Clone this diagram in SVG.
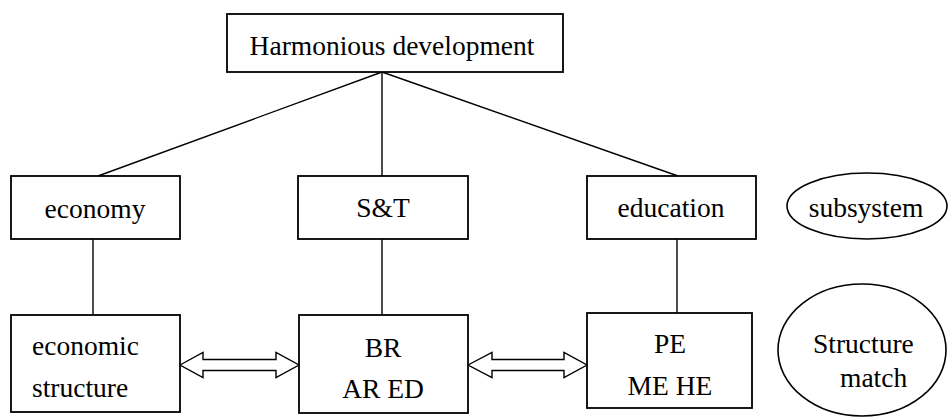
<svg xmlns="http://www.w3.org/2000/svg" width="952" height="418" viewBox="0 0 952 418" font-family="'Liberation Serif', 'Times New Roman', Tinos, 'DejaVu Serif', serif">
<style>
.box{fill:#fff;stroke:#000;stroke-width:1.8}
.ell{fill:#fff;stroke:#000;stroke-width:1.6}
.ln{fill:none;stroke:#000;stroke-width:1.4}
.arr{fill:#fff;stroke:#000;stroke-width:1.4;stroke-linejoin:miter}
text{font-family:'Liberation Serif','Times New Roman',Tinos,'DejaVu Serif',serif;font-size:27.5px;fill:#000}
.c{text-anchor:middle}
</style>
<rect width="952" height="418" fill="#fff"/>
<g id="connectors">
<line class="ln" x1="382" y1="72" x2="98" y2="176"/>
<line class="ln" x1="382" y1="72" x2="382" y2="176"/>
<line class="ln" x1="382" y1="72" x2="678" y2="176"/>
<line class="ln" x1="93" y1="239" x2="93" y2="315"/>
<line class="ln" x1="382" y1="239" x2="382" y2="315"/>
<line class="ln" x1="677" y1="239" x2="677" y2="313"/>
<path class="arr" d="M180,365 L203,352.5 L203,359.5 L276,359.5 L276,352.5 L299,365 L276,377.5 L276,370.5 L203,370.5 L203,377.5 Z"/>
<path class="arr" d="M468,365 L492,352.5 L492,359.5 L564,359.5 L564,352.5 L587,365 L564,377.5 L564,370.5 L492,370.5 L492,377.5 Z"/>
</g>
<g id="harmonious">
<rect class="box" x="227" y="14" width="336" height="58"/>
<text class="c" x="392" y="55">Harmonious development</text>
</g>
<g id="economy">
<rect class="box" x="11" y="176" width="169" height="63"/>
<text class="c" x="95" y="218">economy</text>
</g>
<g id="st">
<rect class="box" x="298" y="176" width="170" height="63"/>
<text class="c" x="383" y="217">S&amp;T</text>
</g>
<g id="education">
<rect class="box" x="587" y="176" width="169" height="63"/>
<text class="c" x="671" y="217">education</text>
</g>
<g id="subsystem">
<ellipse class="ell" cx="867" cy="206" rx="80" ry="33"/>
<text class="c" x="866" y="217">subsystem</text>
</g>
<g id="economic-structure">
<rect class="box" x="11" y="315" width="169" height="97"/>
<text x="32" y="355">economic</text>
<text x="32" y="397">structure</text>
</g>
<g id="br">
<rect class="box" x="299" y="315" width="169" height="98"/>
<text class="c" x="383" y="357">BR</text>
<text class="c" x="383" y="398">AR ED</text>
</g>
<g id="pe">
<rect class="box" x="587" y="313" width="165" height="95"/>
<text class="c" x="670" y="353">PE</text>
<text class="c" x="670" y="395">ME HE</text>
</g>
<g id="structure-match">
<ellipse class="ell" cx="862" cy="350" rx="84" ry="66"/>
<text x="813" y="353">Structure</text>
<text x="840" y="387">match</text>
</g>
</svg>
